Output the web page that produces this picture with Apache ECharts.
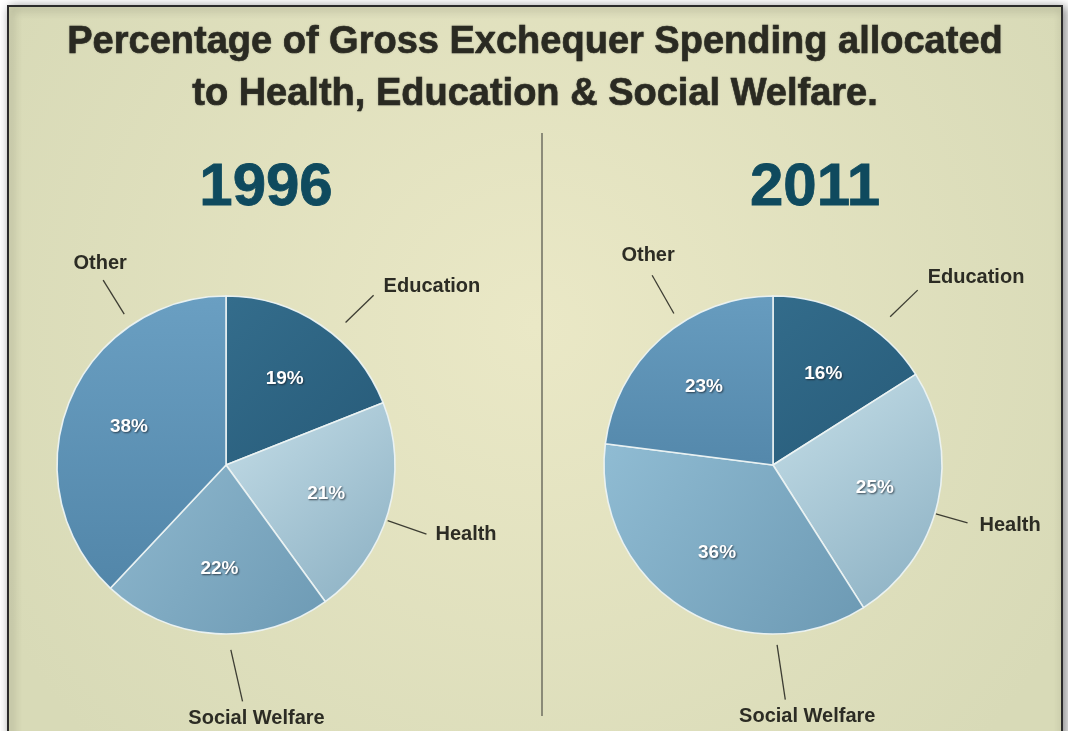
<!DOCTYPE html>
<html>
<head>
<meta charset="utf-8">
<script src="https://cdn.jsdelivr.net/npm/echarts@6/dist/echarts.min.js"></script>
<style>
  html, body { margin: 0; padding: 0; background: #ffffff; }
  #chart { width: 1068px; height: 731px; }
</style>
</head>
<body>
<div id="chart"></div>
<script>
// ---------- DATA ----------
const titleLines = ['Percentage of Gross Exchequer Spending allocated', 'to Health, Education & Social Welfare.'];
const categories = ['Education', 'Health', 'Social Welfare', 'Other'];
const years = ['1996', '2011'];
const values1996 = [19, 21, 22, 38];
const values2011 = [16, 25, 36, 23];

// ---------- STYLE / LAYOUT ----------
const FONT = 'Liberation Sans';
const R = 169;
const pieCenters = [[226, 465], [773, 465]];
const yearX = [261, 810];

function grad(c1, c2, x2, y2) {
  return { type: 'linear', x: 0, y: 0, x2: x2, y2: y2,
    colorStops: [{ offset: 0, color: c1 }, { offset: 1, color: c2 }] };
}
const sliceColors = [
  [grad('#346d8c', '#275b79', 1, 1), grad('#c4dde7', '#8aafc2', 1, 1), grad('#8fb8ce', '#6d9ab4', 1, 1), grad('#6a9fc2', '#5286a9', 0, 1)],
  [grad('#336c8b', '#275b79', 1, 1), grad('#c6dfe8', '#8aafc2', 1, 1), grad('#90bcd3', '#6c99b3', 1, 1), grad('#679cbf', '#5488ab', 0, 1)]
];

// leader lines: start [angleDeg, radius], end [angleDeg, radius], label offset from end [dx, dy, align]
const leaders = [
  [
    { s: [50, 186], e: [49, 225], l: [10, -9, 'left'] },
    { s: [-19, 171], e: [-19, 212], l: [9, 0, 'left'] },
    { s: [-88.5, 185], e: [-86, 237], l: [14, 17, 'center'] },
    { s: [124, 182], e: [123.6, 222], l: [-3, -17, 'center'] }
  ],
  [
    { s: [51.7, 189], e: [50.4, 227], l: [10, -13, 'left'] },
    { s: [-16.7, 170], e: [-16.6, 203], l: [12, 2, 'left'] },
    { s: [-88.7, 180], e: [-87, 235], l: [22, 17, 'center'] },
    { s: [123.2, 181], e: [122.5, 225], l: [-4, -20, 'center'] }
  ]
];

function polar(c, a, r) {
  const t = a * Math.PI / 180;
  return [c[0] + r * Math.cos(t), c[1] - r * Math.sin(t)];
}

function makeSeries(pi, values) {
  const c = pieCenters[pi];
  const data = categories.map((name, i) => ({
    name: name, value: values[i], itemStyle: { color: sliceColors[pi][i] }
  }));
  return [
    {
      type: 'pie',
      center: c,
      radius: [0, R],
      startAngle: 90,
      clockwise: true,
      silent: true,
      avoidLabelOverlap: false,
      itemStyle: { borderColor: 'rgba(236,243,243,0.95)', borderWidth: 1.6 },
      label: {
        show: true, position: 'outside', formatter: '{b}',
        fontFamily: FONT, fontWeight: 'bold', fontSize: 20, color: '#2c2c24'
      },
      labelLine: { show: true, lineStyle: { color: '#3d3d33', width: 1.3 } },
      labelLayout: function (p) {
        const L = leaders[pi][p.dataIndex];
        const s = polar(c, L.s[0], L.s[1]);
        const e = polar(c, L.e[0], L.e[1]);
        return {
          x: e[0] + L.l[0], y: e[1] + L.l[1],
          align: L.l[2], verticalAlign: 'middle',
          labelLinePoints: [s, e, e]
        };
      },
      data: data
    },
    {
      type: 'pie',
      center: c,
      radius: [0, R * 1.2],
      startAngle: 90,
      clockwise: true,
      silent: true,
      avoidLabelOverlap: false,
      itemStyle: { color: 'rgba(0,0,0,0)' },
      label: {
        show: true, position: 'inside', formatter: '{c}%',
        fontFamily: FONT, fontWeight: 'bold', fontSize: 19, color: '#ffffff',
        textShadowColor: 'rgba(20,30,40,0.75)', textShadowBlur: 2,
        textShadowOffsetX: 1, textShadowOffsetY: 1
      },
      labelLine: { show: false },
      data: categories.map((name, i) => ({ name: name, value: values[i] }))
    }
  ];
}

const chart = echarts.init(document.getElementById('chart'), null, { renderer: 'canvas' });
chart.setOption({
  animation: false,
  backgroundColor: '#ffffff',
  title: [
    {
      text: titleLines.join('\n'),
      left: 530, top: 12, textAlign: 'center',
      textStyle: {
        fontFamily: FONT, fontWeight: 'bold', fontSize: 38, lineHeight: 52, color: '#2a2a22',
        textBorderColor: '#2a2a22', textBorderWidth: 0.6,
        textShadowColor: 'rgba(0,0,0,0.18)', textShadowBlur: 2
      }
    },
    {
      text: years[0], left: yearX[0], top: 153, textAlign: 'center',
      textStyle: { fontFamily: FONT, fontWeight: 'bold', fontSize: 60, lineHeight: 60, color: '#0f4a5e',
        textBorderColor: '#0f4a5e', textBorderWidth: 0.8 }
    },
    {
      text: years[1], left: yearX[1], top: 153, textAlign: 'center',
      textStyle: { fontFamily: FONT, fontWeight: 'bold', fontSize: 60, lineHeight: 60, color: '#0f4a5e',
        textBorderColor: '#0f4a5e', textBorderWidth: 0.8 }
    }
  ],
  graphic: [
    {
      type: 'rect', z: -10, silent: true,
      shape: { x: 8, y: 6, width: 1054, height: 760 },
      style: {
        fill: { type: 'radial', x: 0.5, y: 0.42, r: 0.8,
          colorStops: [{ offset: 0, color: '#eae8c6' }, { offset: 1, color: '#d8dab7' }] },
        stroke: '#2b2b2b', lineWidth: 2,
        shadowBlur: 10, shadowColor: 'rgba(0,0,0,0.45)', shadowOffsetX: 3, shadowOffsetY: 2
      }
    },
    {
      type: 'line', z: -5, silent: true,
      shape: { x1: 542, y1: 133, x2: 542, y2: 716 },
      style: { stroke: '#6e6e60', lineWidth: 1.5 }
    }
  ],
  series: [].concat(makeSeries(0, values1996), makeSeries(1, values2011))
});
</script>
</body>
</html>
